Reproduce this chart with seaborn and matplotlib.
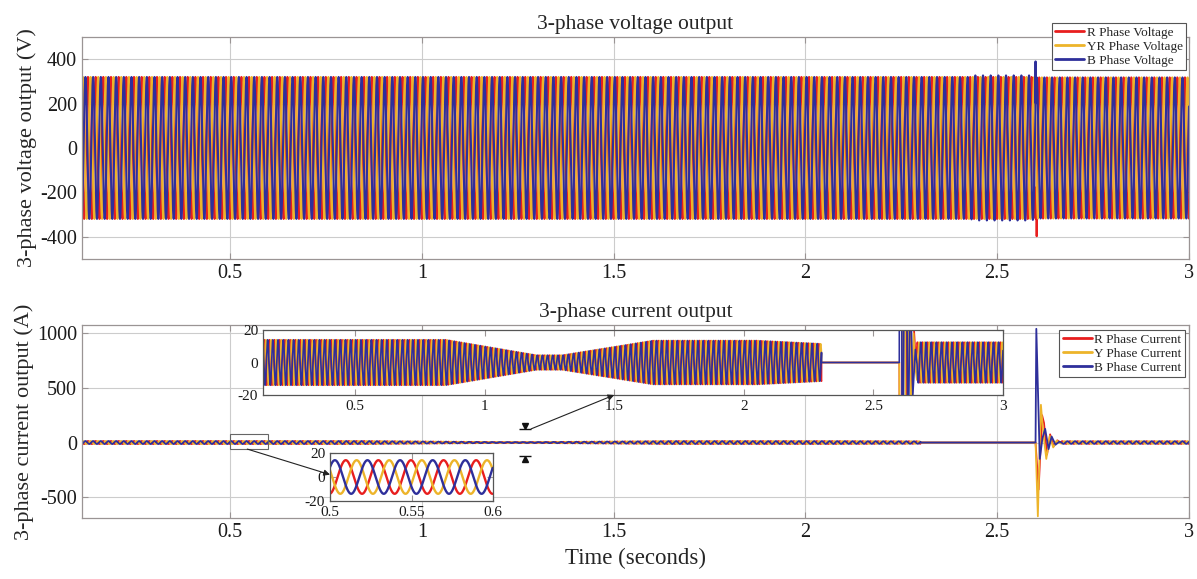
import numpy as np
import pandas as pd
import matplotlib
matplotlib.use("Agg")
import matplotlib.pyplot as plt
import seaborn as sns
from matplotlib.patches import Rectangle
from matplotlib.lines import Line2D

sns.set_style("white")
plt.rcParams['font.family'] = ['Liberation Serif', 'DejaVu Serif']
plt.rcParams['axes.unicode_minus'] = False

# -------------------------
# values
# -------------------------
freq_hz = 50
t_start, t_end = 0.1, 3.0
phases = ['R', 'Y', 'B']
phase_deg = [-84, 156, 36]          # B peaks first, then R, then Y
colors = {'R': '#E81E1E', 'Y': '#EDB42A', 'B': '#2E2F9B'}

# voltage envelope (V) per phase
volt_env_t = [0.1, 2.43, 2.44, 2.59, 2.60, 3.0]
volt_env = {'R': [320, 320, 320, 320, 318, 318],
            'Y': [320, 320, 320, 320, 318, 318],
            'B': [320, 320, 327, 327, 318, 318]}
volt_spike_t = {'R': 2.603, 'Y': None, 'B': 2.600}
volt_spike_v = {'R': -398, 'Y': None, 'B': 390}

# current envelope (A) before the outage, outage window, after recovery
cur_env_t = [0.1, 0.85, 1.2, 1.3, 1.65, 2.05, 2.3]
cur_env_a = [14, 14, 4.5, 4.5, 13.5, 13.5, 11.5]
outage_t = [2.3, 2.6]
recover_t, recover_amp = 2.668, 12.5

# transient after reclosing (time s, current A)
trans_t = {'R': [2.600, 2.608, 2.617, 2.622, 2.630, 2.638, 2.647, 2.657, 2.664],
           'Y': [2.600, 2.606, 2.614, 2.620, 2.628, 2.637, 2.646, 2.655, 2.663],
           'B': [2.600, 2.602, 2.611, 2.618, 2.625, 2.634, 2.642, 2.652, 2.662]}
trans_i = {'R': [0, -430, 250, 180, -110, 75, -35, 20, 0],
           'Y': [0, -675, 345, 90, -150, 60, -45, 18, -5],
           'B': [0, 1040, -150, 40, 125, -60, 55, -20, 8]}

volt_labels = ['R Phase Voltage', 'YR Phase Voltage', 'B Phase Voltage']
cur_labels = ['R Phase Current', 'Y Phase Current', 'B Phase Current']

# -------------------------
# build waveforms
# -------------------------
dt = 0.0002
t = np.arange(t_start, t_end + dt / 2, dt)
w = 2 * np.pi * freq_hz

rows_v, rows_i = [], []
for p, ph in zip(phases, phase_deg):
    amp = np.interp(t, volt_env_t, volt_env[p])
    v = amp * np.sin(w * t + np.deg2rad(ph))
    if volt_spike_t[p] is not None:
        v[np.argmin(abs(t - volt_spike_t[p]))] = volt_spike_v[p]
    rows_v.append(pd.DataFrame({'time': t, 'value': v, 'phase': p}))

    t1 = t[t <= cur_env_t[-1]]
    i1 = np.interp(t1, cur_env_t, cur_env_a) * np.sin(w * t1 + np.deg2rad(ph))
    t2 = np.array(outage_t)
    i2 = np.zeros(2)
    t3 = np.array(trans_t[p])
    i3 = np.array(trans_i[p], dtype=float)
    t4 = t[t >= recover_t]
    i4 = recover_amp * np.sin(w * t4 + np.deg2rad(ph))
    tt = np.concatenate([t1, t2, t3, t4])
    ii = np.concatenate([i1, i2, i3, i4])
    rows_i.append(pd.DataFrame({'time': tt, 'value': ii, 'phase': p}))

volt_df = pd.concat(rows_v, ignore_index=True)
cur_df = pd.concat(rows_i, ignore_index=True)

# -------------------------
# figure
# -------------------------
fig = plt.figure(figsize=(11.97, 5.79), dpi=100)
ax1 = fig.add_axes([0.0685, 0.553, 0.9248, 0.383])
ax2 = fig.add_axes([0.0685, 0.1054, 0.9248, 0.3333])

spine_c = '#9a9494'
grid_c = '#cccccc'


def style_axes(ax, fs):
    for s in ax.spines.values():
        s.set_color(spine_c)
        s.set_linewidth(0.9)
    ax.tick_params(direction='in', length=4, width=0.8, color=spine_c,
                   labelsize=fs, labelcolor='#1a1a1a',
                   top=True, right=True, bottom=True, left=True)
    ax.set_xlabel('')
    ax.set_ylabel('')


def draw(ax, df, lw):
    sns.lineplot(data=df, x='time', y='value', hue='phase', hue_order=phases,
                 palette=colors, estimator=None, sort=False, lw=lw,
                 legend=False, ax=ax)


# voltage
draw(ax1, volt_df, 1.5)
ax1.set_xlim(0.114, 3.0)
ax1.set_ylim(-500, 500)
ax1.set_yticks([-400, -200, 0, 200, 400])
ax1.set_xticks([0.5, 1, 1.5, 2, 2.5, 3])
ax1.set_xticklabels(['0.5', '1', '1.5', '2', '2.5', '3'])
ax1.grid(True, color=grid_c, lw=0.8)
style_axes(ax1, 14.5)
ax1.set_title('3-phase voltage output', fontsize=15.5, pad=6)
ax1.set_ylabel('3-phase voltage output (V)', fontsize=16, labelpad=2)

# current
draw(ax2, cur_df, 1.3)
ax2.set_xlim(0.114, 3.0)
ax2.set_ylim(-690, 1075)
ax2.set_yticks([-500, 0, 500, 1000])
ax2.set_xticks([0.5, 1, 1.5, 2, 2.5, 3])
ax2.set_xticklabels(['0.5', '1', '1.5', '2', '2.5', '3'])
ax2.grid(True, color=grid_c, lw=0.8)
style_axes(ax2, 14.5)
ax2.set_title('3-phase current output', fontsize=15.5, pad=6)
ax2.set_ylabel('3-phase current output (A)', fontsize=16, labelpad=2)
ax2.set_xlabel('Time (seconds)', fontsize=16.5, labelpad=4)

# legends
def add_legend(ax, labels, anchor):
    handles = [Line2D([], [], color=colors[p], lw=2) for p in phases]
    leg = ax.legend(handles, labels, loc='upper right', bbox_to_anchor=anchor,
                    bbox_transform=fig.transFigure, borderaxespad=0,
                    fontsize=9.5, frameon=True, fancybox=False, framealpha=1,
                    handlelength=2.2, handletextpad=0.2, labelspacing=0.15,
                    borderpad=0.25)
    leg.get_frame().set_edgecolor('#555555')
    leg.get_frame().set_linewidth(0.8)


add_legend(ax1, volt_labels, (1186 / 1197, 1 - 23 / 579))
add_legend(ax2, cur_labels, (1185 / 1197, 1 - 330 / 579))

# inset: whole current record zoomed to +-20 A
ins1 = fig.add_axes([263 / 1197, 1 - 395 / 579, 740 / 1197, 65 / 579])
draw(ins1, cur_df, 1.2)
ins1.set_xlim(0.145, 3.0)
ins1.set_ylim(-20, 20)
ins1.set_yticks([-20, 0, 20])
ins1.set_xticks([0.5, 1, 1.5, 2, 2.5, 3])
ins1.set_xticklabels(['0.5', '1', '1.5', '2', '2.5', '3'])
style_axes(ins1, 11)
for s in ins1.spines.values():
    s.set_color('#555555')

# inset: 0.5 - 0.6 s detail
ins2 = fig.add_axes([330 / 1197, 1 - 501 / 579, 163 / 1197, 48 / 579])
draw(ins2, cur_df[(cur_df['time'] >= 0.5) & (cur_df['time'] <= 0.6)], 1.7)
ins2.set_xlim(0.5, 0.6)
ins2.set_ylim(-20, 20)
ins2.set_yticks([-20, 0, 20])
ins2.set_xticks([0.5, 0.55, 0.6])
ins2.set_xticklabels(['0.5', '0.55', '0.6'])
style_axes(ins2, 11)
for s in ins2.spines.values():
    s.set_color('#555555')

# zoom markers and arrows
ax2.add_patch(Rectangle((0.5, -60), 0.1, 140, fill=False, ec='#666666', lw=0.8, zorder=5))
ins2.annotate('', xy=(0.5, 2), xycoords='data', xytext=(0.545, -60),
              textcoords=ax2.transData,
              arrowprops=dict(arrowstyle='-|>', color='#222222', lw=0.8,
                              mutation_scale=9, shrinkA=0, shrinkB=0))
ins1.annotate('', xy=(1.5, -20), xycoords='data', xytext=(1.285, 125),
              textcoords=ax2.transData,
              arrowprops=dict(arrowstyle='-|>', color='#222222', lw=0.8,
                              mutation_scale=9, shrinkA=0, shrinkB=0))
ax2.plot([1.27], [150], marker='v', ms=5, color='#111111', zorder=6)
ax2.plot([1.27], [125], marker='_', ms=9, mew=1, color='#111111', zorder=6)
ax2.plot([1.27], [-150], marker='^', ms=5, color='#111111', zorder=6)
ax2.plot([1.27], [-125], marker='_', ms=9, mew=1, color='#111111', zorder=6)

fig.savefig('out.png', dpi=100)
